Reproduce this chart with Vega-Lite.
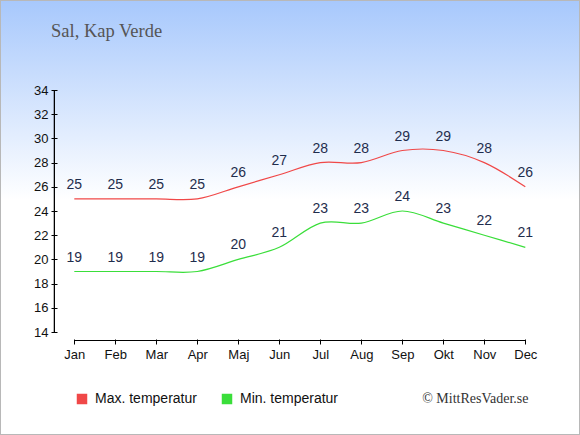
{
  "$schema": "https://vega.github.io/schema/vega-lite/v6.json",
  "width": 580,
  "height": 435,
  "autosize": "none",
  "padding": 0,
  "background": "#ffffff",
  "title": {
    "text": "Sal, Kap Verde",
    "anchor": "start",
    "frame": "group",
    "orient": "top",
    "offset": 0,
    "baseline": "alphabetic",
    "dx": 51,
    "dy": 56,
    "font": "Liberation Serif",
    "fontSize": 18.5,
    "fontWeight": "normal",
    "color": "#555555"
  },
  "data": {
    "values": [
      {"m": 1, "typ": "Max. temperatur", "v": 25},
      {"m": 2, "typ": "Max. temperatur", "v": 25},
      {"m": 3, "typ": "Max. temperatur", "v": 25},
      {"m": 4, "typ": "Max. temperatur", "v": 25},
      {"m": 5, "typ": "Max. temperatur", "v": 26},
      {"m": 6, "typ": "Max. temperatur", "v": 27},
      {"m": 7, "typ": "Max. temperatur", "v": 28},
      {"m": 8, "typ": "Max. temperatur", "v": 28},
      {"m": 9, "typ": "Max. temperatur", "v": 29},
      {"m": 10, "typ": "Max. temperatur", "v": 29},
      {"m": 11, "typ": "Max. temperatur", "v": 28},
      {"m": 12, "typ": "Max. temperatur", "v": 26},
      {"m": 1, "typ": "Min. temperatur", "v": 19},
      {"m": 2, "typ": "Min. temperatur", "v": 19},
      {"m": 3, "typ": "Min. temperatur", "v": 19},
      {"m": 4, "typ": "Min. temperatur", "v": 19},
      {"m": 5, "typ": "Min. temperatur", "v": 20},
      {"m": 6, "typ": "Min. temperatur", "v": 21},
      {"m": 7, "typ": "Min. temperatur", "v": 23},
      {"m": 8, "typ": "Min. temperatur", "v": 23},
      {"m": 9, "typ": "Min. temperatur", "v": 24},
      {"m": 10, "typ": "Min. temperatur", "v": 23},
      {"m": 11, "typ": "Min. temperatur", "v": 22},
      {"m": 12, "typ": "Min. temperatur", "v": 21}
    ]
  },
  "encoding": {
    "x": {
      "field": "m",
      "type": "quantitative",
      "scale": {"domain": [-0.812, 13.334], "nice": false, "zero": false},
      "axis": {
        "orient": "bottom",
        "offset": -96,
        "zindex": 2,
        "values": [1, 2, 3, 4, 5, 6, 7, 8, 9, 10, 11, 12],
        "labelExpr": "['Jan','Feb','Mar','Apr','Maj','Jun','Jul','Aug','Sep','Okt','Nov','Dec'][datum.value - 1]",
        "domain": false,
        "grid": false,
        "tickSize": 5,
        "tickColor": "#000000",
        "labelPadding": 4,
        "labelFont": "Liberation Sans",
        "labelFontSize": 13,
        "labelColor": "#111111",
        "labelOverlap": false,
        "labelFlush": false,
        "title": "© MittResVader.se",
        "titleX": 528,
        "titleY": 63,
        "titleAlign": "right",
        "titleBaseline": "alphabetic",
        "titleFont": "Liberation Serif",
        "titleFontSize": 14,
        "titleFontWeight": "normal",
        "titleColor": "#333333"
      }
    },
    "y": {
      "field": "v",
      "type": "quantitative",
      "scale": {"domain": [5.488, 41.438], "nice": false, "zero": false},
      "axis": {
        "orient": "left",
        "offset": -57,
        "zindex": 2,
        "values": [14, 16, 18, 20, 22, 24, 26, 28, 30, 32, 34],
        "domain": false,
        "grid": false,
        "tickSize": 6,
        "tickColor": "#000000",
        "labelPadding": 3,
        "labelFont": "Liberation Sans",
        "labelFontSize": 13,
        "labelColor": "#111111",
        "labelOverlap": false,
        "labelFlush": false,
        "title": null
      }
    }
  },
  "layer": [
    {
      "data": {"values": [{}]},
      "mark": {
        "type": "rect",
        "x": 0,
        "x2": {"expr": "width"},
        "y": 0,
        "y2": {"expr": "height"},
        "stroke": "#b8b8b8",
        "strokeWidth": 2,
        "color": {
          "gradient": "linear",
          "x1": 0,
          "y1": 0,
          "x2": 0,
          "y2": 1,
          "stops": [
            {"offset": 0, "color": "#a7c8fc"},
            {"offset": 0.46, "color": "#ffffff"},
            {"offset": 1, "color": "#ffffff"}
          ]
        }
      },
      "encoding": {"x": null, "y": null}
    },
    {
      "mark": {"type": "rule", "color": "#000000", "strokeWidth": 1},
      "encoding": {
        "x": {"datum": 1, "type": "quantitative"},
        "x2": {"datum": 12},
        "y": {"datum": 13.2975, "type": "quantitative"}
      }
    },
    {
      "mark": {"type": "rule", "color": "#000000", "strokeWidth": 1},
      "encoding": {
        "x": {"datum": 0.517, "type": "quantitative"},
        "y": {"datum": 14, "type": "quantitative"},
        "y2": {"datum": 34}
      }
    },
    {
      "mark": {"type": "line", "interpolate": "cardinal", "strokeWidth": 1.2},
      "encoding": {
        "color": {
          "field": "typ",
          "type": "nominal",
          "scale": {
            "domain": ["Max. temperatur", "Min. temperatur"],
            "range": ["#f04848", "#3ade3a"]
          },
          "legend": {
            "orient": "none",
            "legendX": 75,
            "legendY": 392,
            "direction": "horizontal",
            "title": null,
            "padding": 0,
            "symbolType": "square",
            "symbolSize": 110,
            "symbolStrokeWidth": 0,
            "labelFont": "Liberation Sans",
            "labelFontSize": 14,
            "labelColor": "#111111",
            "labelOffset": 6,
            "columnPadding": 23,
            "encode": {
              "symbols": {
                "update": {
                  "fill": {"scale": "color", "field": "value"},
                  "fillOpacity": {"value": 1}
                }
              }
            }
          }
        }
      }
    },
    {
      "mark": {
        "type": "text",
        "dy": -14,
        "baseline": "middle",
        "font": "Liberation Sans",
        "fontSize": 14,
        "color": "#1f2d4d"
      },
      "encoding": {"text": {"field": "v", "type": "quantitative"}}
    }
  ]
}
